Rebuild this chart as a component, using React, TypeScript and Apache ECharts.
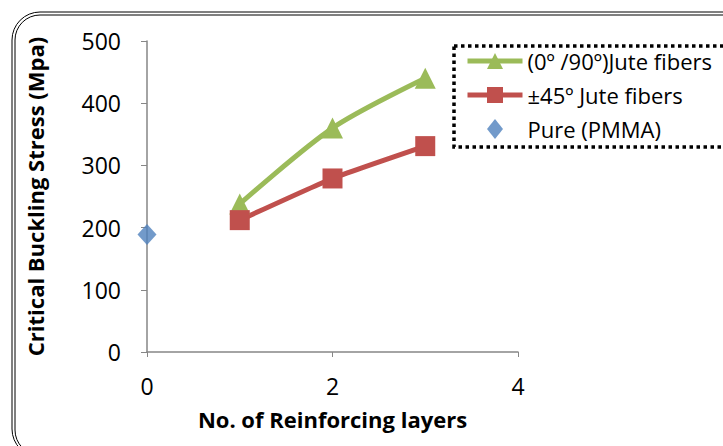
import React, { useEffect, useRef } from "react";
import * as echarts from "echarts";

const layers090 = [1, 2, 3];
const stress090 = [238, 360, 440];
const layers45 = [1, 2, 3];
const stress45 = [212, 279, 331];
const layersPure = [0];
const stressPure = [189];
const seriesNames = ["(0º /90º)Jute fibers", "±45º Jute fibers", "Pure (PMMA)"];
const xTitle = "No. of Reinforcing layers";
const yTitle = "Critical Buckling Stress (Mpa)";

const FONT = "Open Sans";

export default function App() {
  const ref = useRef<HTMLDivElement>(null);
  useEffect(() => {
    if (!ref.current) return;
    const chart = echarts.init(ref.current, null, { renderer: "svg" });
    const pair = (xs: number[], ys: number[]) => xs.map((x, i) => [x, ys[i]]);
    chart.setOption({
      animation: false,
      textStyle: { fontFamily: FONT },
      grid: { left: 147, right: 205, top: 41, bottom: 94 },
      xAxis: {
        type: "value",
        min: 0,
        max: 4,
        interval: 2,
        name: xTitle,
        nameLocation: "middle",
        nameGap: 56,
        nameTextStyle: { fontSize: 22, fontWeight: "bold", color: "#000", fontFamily: FONT },
        axisLine: { show: true, lineStyle: { color: "#868686", width: 1.5 } },
        axisTick: { show: true, length: 5, lineStyle: { color: "#868686" } },
        axisLabel: { fontSize: 23, color: "#000", margin: 22, fontFamily: FONT },
        splitLine: { show: false },
      },
      yAxis: {
        type: "value",
        min: 0,
        max: 500,
        interval: 100,
        name: yTitle,
        nameLocation: "middle",
        nameGap: 101,
        nameTextStyle: { fontSize: 22, fontWeight: "bold", color: "#000", fontFamily: FONT },
        axisLine: { show: true, lineStyle: { color: "#868686", width: 1.5 } },
        axisTick: { show: true, length: 6, lineStyle: { color: "#868686" } },
        axisLabel: { fontSize: 23, color: "#000", margin: 26, fontFamily: FONT },
        splitLine: { show: false },
      },
      legend: {
        orient: "vertical",
        left: 460,
        top: 45,
        itemWidth: 55,
        itemHeight: 20,
        itemGap: 12,
        symbolKeepAspect: true,
        lineStyle: { width: 5 },
        textStyle: { fontSize: 22, lineHeight: 22, color: "#000", fontFamily: FONT },
        data: [
          { name: seriesNames[0] },
          { name: seriesNames[1] },
          { name: seriesNames[2], icon: "path://M8,0 L16,10 L8,20 L0,10 Z" },
        ],
      },
      graphic: [
        {
          type: "rect",
          shape: { x: 12, y: 12, width: 740, height: 445, r: 28 },
          style: { fill: "none", stroke: "#000", lineWidth: 1 },
          silent: true,
        },
        {
          type: "rect",
          shape: { x: 15, y: 15, width: 740, height: 440, r: 25 },
          style: { fill: "none", stroke: "#000", lineWidth: 1 },
          silent: true,
        },
        {
          type: "rect",
          shape: { x: 454, y: 46, width: 300, height: 101 },
          style: { fill: "none", stroke: "#000", lineWidth: 3.5, lineDash: [3.5, 3.5] },
          silent: true,
        },
      ],
      series: [
        {
          name: seriesNames[0],
          type: "line",
          smooth: 0.3,
          data: pair(layers090, stress090),
          symbol: "triangle",
          symbolSize: 21,
          itemStyle: { color: "#9BBB59" },
          lineStyle: { color: "#9BBB59", width: 5 },
        },
        {
          name: seriesNames[1],
          type: "line",
          smooth: 0.15,
          data: pair(layers45, stress45),
          symbol: "rect",
          symbolSize: 20,
          itemStyle: { color: "#C0504D" },
          lineStyle: { color: "#C0504D", width: 5 },
        },
        {
          name: seriesNames[2],
          type: "scatter",
          data: pair(layersPure, stressPure),
          symbol: "diamond",
          symbolSize: [19, 21],
          itemStyle: { color: "#4F81BD" },
        },
      ],
    });
    return () => chart.dispose();
  }, []);
  return <div ref={ref} style={{ width: 723, height: 446, position: "absolute", left: 0, top: 0, background: "#fff" }} />;
}
